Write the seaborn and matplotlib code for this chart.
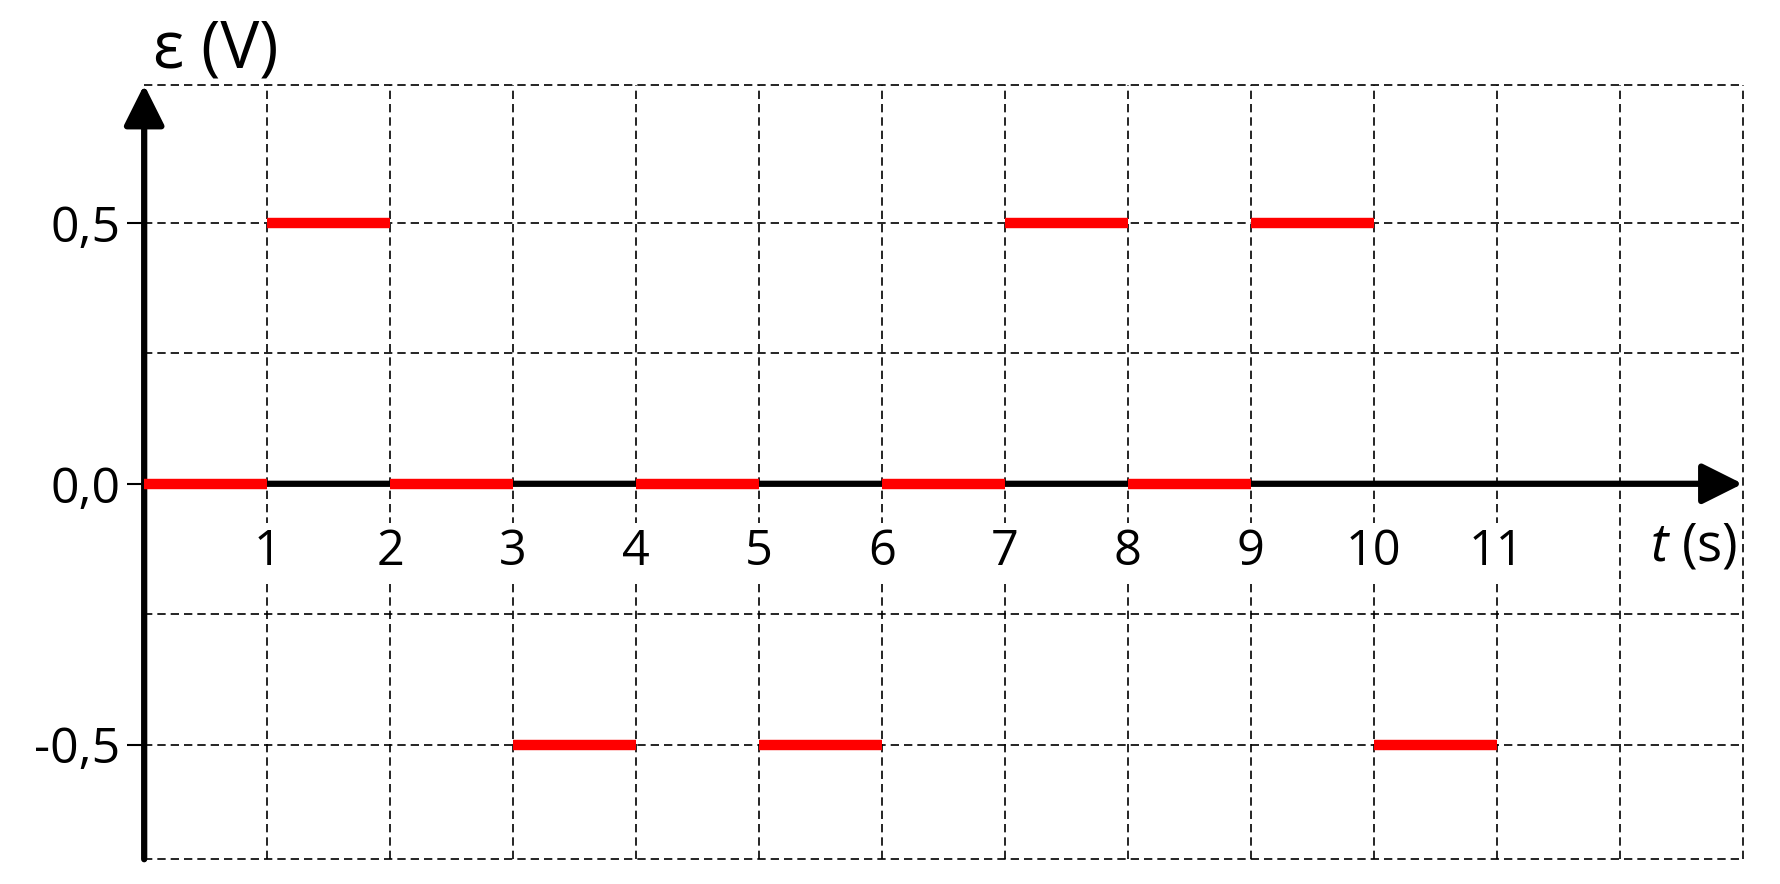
import numpy as np
import pandas as pd
import matplotlib
matplotlib.use("Agg")
import matplotlib.pyplot as plt
import seaborn as sns

# emf segments: value held on [start, end)
seg_start = [0, 1, 2, 3, 4, 5, 6, 7, 8, 9, 10]
seg_end = [1, 2, 3, 4, 5, 6, 7, 8, 9, 10, 11]
seg_value = [0.0, 0.5, 0.0, -0.5, 0.0, -0.5, 0.0, 0.5, 0.0, 0.5, -0.5]

x_ticks = [1, 2, 3, 4, 5, 6, 7, 8, 9, 10, 11]
x_grid = [1, 2, 3, 4, 5, 6, 7, 8, 9, 10, 11, 12]
y_ticks = [0.5, 0.0, -0.5]
y_ticklabels = ["0,5", "0,0", "-0,5"]
y_grid = [0.5, 0.25, -0.25, -0.5]

X_MIN, X_MAX = 0, 13
Y_MIN, Y_MAX = -0.72, 0.765

rows = []
for i, (a, b, v) in enumerate(zip(seg_start, seg_end, seg_value)):
    rows.append({"seg": i, "t": a, "eps": v})
    rows.append({"seg": i, "t": b, "eps": v})
df = pd.DataFrame(rows)

sns.set_theme(style="white")
plt.rcParams["font.family"] = ["Open Sans", "DejaVu Sans"]
plt.rcParams["mathtext.fontset"] = "custom"
plt.rcParams["mathtext.it"] = "Open Sans:italic"
plt.rcParams["mathtext.rm"] = "Open Sans"
plt.rcParams["text.color"] = "black"
plt.rcParams["ytick.color"] = "black"

fig = plt.figure(figsize=(17.8, 8.84), dpi=100)
ax = fig.add_axes([0.081, 0.028, 0.898, 0.876])

grid_kw = dict(color="black", lw=1.2, dashes=(5, 3), zorder=1, clip_on=False)
for gx in x_grid + [X_MAX]:
    ax.axvline(gx, **grid_kw)
for gy in y_grid + [Y_MIN, Y_MAX]:
    ax.axhline(gy, **grid_kw)

# time axis and emf axis with arrow heads
arrow_kw = dict(arrowstyle="-|>", lw=4.5, color="black", mutation_scale=62,
                shrinkA=0, shrinkB=0)
ax.annotate("", xy=(X_MAX, 0), xytext=(X_MIN, 0), arrowprops=arrow_kw,
            zorder=3, annotation_clip=False)
ax.annotate("", xy=(0, Y_MAX), xytext=(0, Y_MIN), arrowprops=arrow_kw,
            zorder=3, annotation_clip=False)

sns.lineplot(data=df, x="t", y="eps", units="seg", estimator=None,
             color="#ff0000", lw=7.5, solid_capstyle="butt", zorder=4,
             legend=False, ax=ax)

ax.set_xlim(X_MIN, X_MAX)
ax.set_ylim(Y_MIN, Y_MAX)
ax.set_xticks([])
ax.set_yticks(y_ticks)
ax.set_yticklabels(y_ticklabels, fontsize=36)
ax.tick_params(axis="y", direction="out", length=12, width=1.5,
               color="black", labelcolor="black", pad=5, left=True)
ax.set_xlabel("")
ax.set_ylabel("")
for sp in ax.spines.values():
    sp.set_visible(False)

for tx in x_ticks:
    ax.text(tx, -0.132, str(tx), ha="center", va="center", fontsize=35,
            zorder=2, bbox=dict(facecolor="white", edgecolor="none", pad=4))

ax.text(12.6, -0.12, "$t$ (s)", ha="center", va="center", fontsize=38,
        zorder=2)
ax.text(0.58, 0.83, "ε (V)", ha="center", va="center", fontsize=47,
        clip_on=False)

fig.savefig("out.png", dpi=100, facecolor="white")
